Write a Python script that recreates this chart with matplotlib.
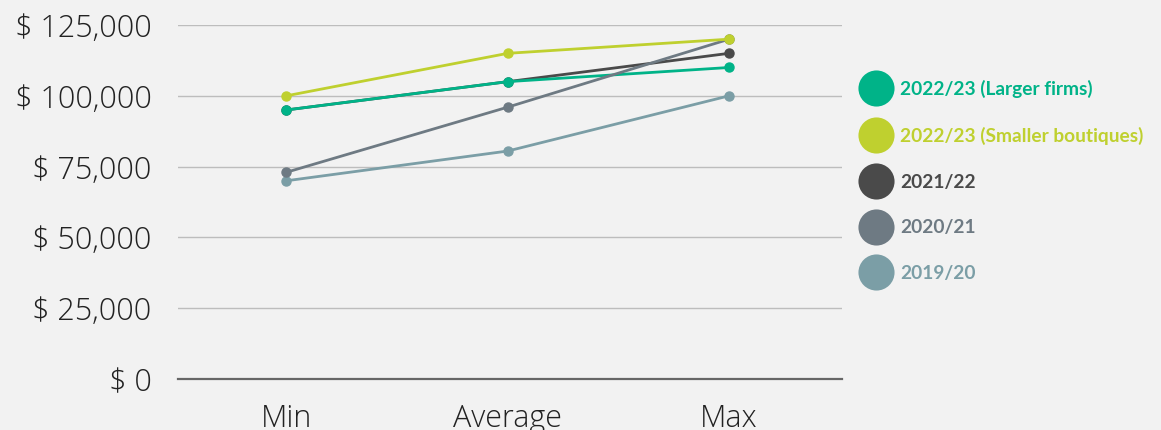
import matplotlib
matplotlib.use("Agg")
import matplotlib.pyplot as plt
from matplotlib.lines import Line2D
from matplotlib.ticker import FuncFormatter

categories = ["Min", "Average", "Max"]
series_names = ["2022/23 (Larger firms)", "2022/23 (Smaller boutiques)",
                "2021/22", "2020/21", "2019/20"]
larger_firms = [95000, 105000, 110000]
smaller_boutiques = [100000, 115000, 120000]
y2021_22 = [95000, 105000, 115000]
y2020_21 = [73000, 96000, 120000]
y2019_20 = [70000, 80500, 100000]
yticks = [0, 25000, 50000, 75000, 100000, 125000]

colors = {
    "2022/23 (Larger firms)": "#00b388",
    "2022/23 (Smaller boutiques)": "#bfd02f",
    "2021/22": "#4a4a4a",
    "2020/21": "#6e7a83",
    "2019/20": "#7b9ea6",
}
data = {
    "2022/23 (Larger firms)": larger_firms,
    "2022/23 (Smaller boutiques)": smaller_boutiques,
    "2021/22": y2021_22,
    "2020/21": y2020_21,
    "2019/20": y2019_20,
}

bg = "#f2f2f2"
fig = plt.figure(figsize=(11.61, 4.30), dpi=100, facecolor=bg)
ax = fig.add_axes([178 / 1161, 1 - 379 / 430, (842 - 178) / 1161, (379 - 25) / 430])
ax.set_facecolor(bg)

x = list(range(len(categories)))
draw_order = ["2019/20", "2021/22", "2022/23 (Larger firms)", "2020/21", "2022/23 (Smaller boutiques)"]
for z, name in enumerate(draw_order):
    ax.plot(x, data[name], color=colors[name], lw=2.0, marker="o", ms=6.5,
            solid_capstyle="round", zorder=3 + z)

ax.set_xlim(-0.49, 2.51)
ax.set_ylim(0, 125000)
ax.set_yticks(yticks)
ax.yaxis.set_major_formatter(FuncFormatter(lambda v, p: f"$ {int(v):,}"))
ax.set_xticks(x)
ax.set_xticklabels(categories)
ax.grid(axis="y", color="#bdbdbd", lw=1.0, zorder=1)
ax.set_axisbelow(True)
for s in ["top", "right", "left"]:
    ax.spines[s].set_visible(False)
ax.spines["bottom"].set_color("#666666")
ax.spines["bottom"].set_linewidth(1.6)
ax.spines["bottom"].set_zorder(2)

ax.tick_params(axis="both", length=0, colors="#222222")
ax.tick_params(axis="y", pad=19)
ax.tick_params(axis="x", pad=17)
for lab in ax.get_yticklabels() + ax.get_xticklabels():
    lab.set_fontfamily(["Open Sans", "DejaVu Sans"])
    lab.set_fontweight("light")
    lab.set_fontsize(22)

handles = [Line2D([], [], ls="", marker="o", ms=26, color=colors[n], mec="none") for n in series_names]
leg = fig.legend(handles, series_names, loc="center left",
                 bbox_to_anchor=(858 / 1161, 1 - 181 / 430),
                 frameon=False, borderpad=0, borderaxespad=0,
                 handlelength=1.9, handletextpad=0.3, labelspacing=1.5,
                 prop=dict(family=["Lato", "DejaVu Sans"], weight="bold", size=13.8),
                 labelcolor="markerfacecolor")

fig.savefig("out.png", dpi=100, facecolor=bg)
